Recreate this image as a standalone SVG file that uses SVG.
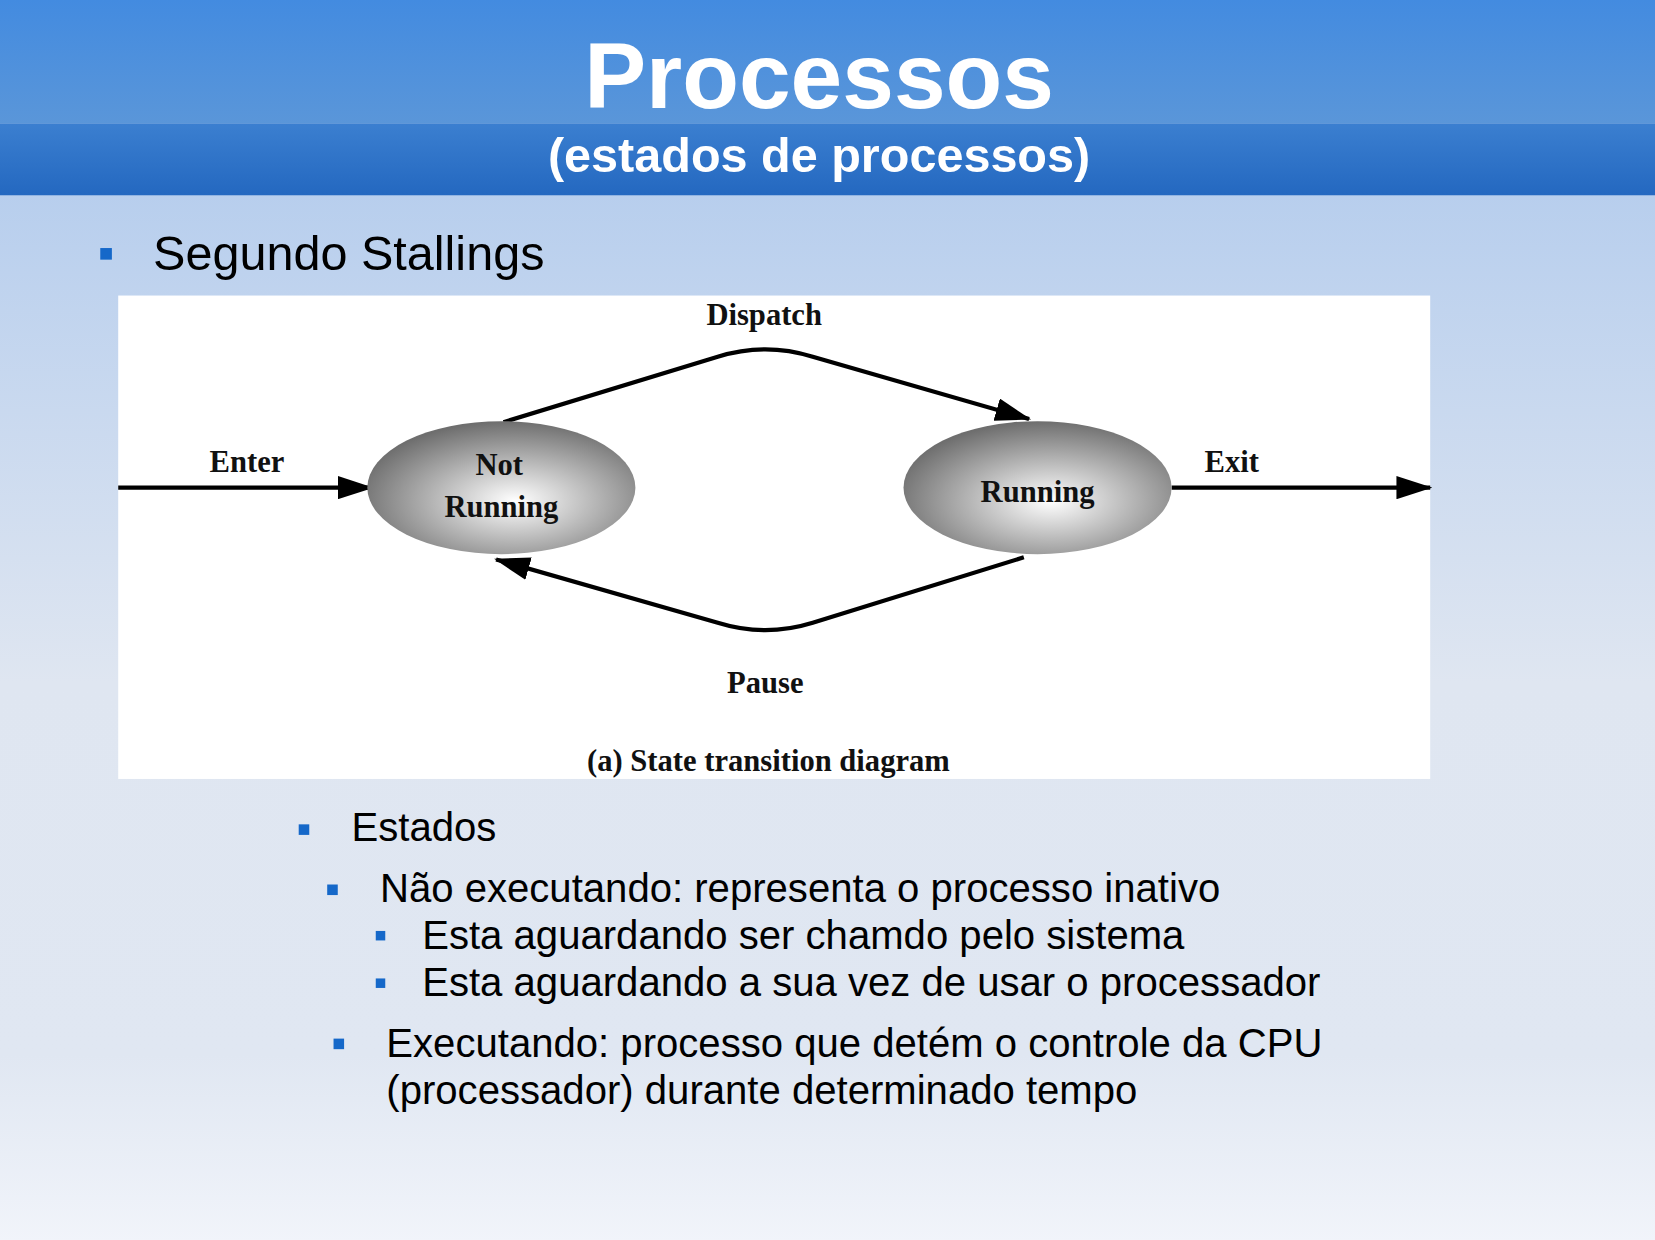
<svg xmlns="http://www.w3.org/2000/svg" width="1655" height="1240" viewBox="0 0 1655 1240">
<defs>
<linearGradient id="bg" x1="0" y1="0" x2="0" y2="1"><stop offset="0" stop-color="#a8c5ec"/><stop offset="0.55" stop-color="#dfe6f1"/><stop offset="0.85" stop-color="#e0e7f2"/><stop offset="1" stop-color="#f1f4fa"/></linearGradient>
<linearGradient id="top" x1="0" y1="0" x2="0" y2="1"><stop offset="0" stop-color="#438be0"/><stop offset="1" stop-color="#5a96d9"/></linearGradient>
<linearGradient id="band" x1="0" y1="0" x2="0" y2="1"><stop offset="0" stop-color="#3b7fd0"/><stop offset="1" stop-color="#2468c0"/></linearGradient>
<radialGradient id="ell" cx="0.55" cy="0.6" r="0.6"><stop offset="0" stop-color="#ffffff"/><stop offset="1" stop-color="#6e6e6e"/></radialGradient>
<marker id="ah" markerWidth="12" markerHeight="10" refX="11" refY="5" orient="auto" markerUnits="userSpaceOnUse"><path d="M0,0 L12,5 L0,10 Z" fill="#000"/></marker>
<marker id="ahb" markerWidth="34" markerHeight="22" refX="32" refY="11" orient="auto" markerUnits="userSpaceOnUse"><path d="M0,0 L34,11 L0,22 Z" fill="#000"/></marker>
</defs>
<style>
.b{font-family:"Liberation Sans",Arial,sans-serif;fill:#000}
.s{font-family:"Liberation Serif","Times New Roman",serif;font-weight:bold;font-size:29px;fill:#111}
.sq{fill:#1568c9}
.ln{fill:none;stroke:#000;stroke-width:4}
</style>
<g transform="scale(1.0555)">
<rect width="1568" height="1176" fill="url(#bg)"/>
<rect width="1568" height="117" fill="url(#top)"/>
<rect y="117" width="1568" height="68" fill="url(#band)"/>
<text x="776" y="102" text-anchor="middle" class="b" style="font-size:88px;font-weight:bold;fill:#fff">Processos</text>
<text x="776" y="163" text-anchor="middle" class="b" style="font-size:46px;font-weight:bold;fill:#fff">(estados de processos)</text>
<rect class="sq" x="95" y="235" width="11" height="11"/>
<text x="145" y="256" class="b" style="font-size:46px">Segundo Stallings</text>
<g id="figure">
<rect x="112" y="280" width="1243" height="458" fill="#fff"/>
<g id="connectors">
<path class="ln" d="M112,462 L352,462" marker-end="url(#ahb)"/>
<path class="ln" d="M1110,462 L1355,462" marker-end="url(#ahb)"/>
<path class="ln" d="M477,400 L680,338 Q725,324 770,338 L975,397" marker-end="url(#ahb)"/>
<path class="ln" d="M970,528 L770,590 Q725,604 680,590 L470,530" marker-end="url(#ahb)"/>
</g>
<g id="notrunning"><ellipse cx="475" cy="462" rx="127" ry="63" fill="url(#ell)"/>
<text x="473" y="450" text-anchor="middle" class="s">Not</text><text x="475" y="490" text-anchor="middle" class="s">Running</text></g>
<g id="running"><ellipse cx="983" cy="462" rx="127" ry="63" fill="url(#ell)"/>
<text x="983" y="476" text-anchor="middle" class="s">Running</text></g>
<text x="724" y="308" text-anchor="middle" class="s">Dispatch</text>
<text x="234" y="447" text-anchor="middle" class="s">Enter</text>
<text x="1167" y="447" text-anchor="middle" class="s">Exit</text>
<text x="725" y="657" text-anchor="middle" class="s">Pause</text>
<text x="728" y="730" text-anchor="middle" class="s">(a) State transition diagram</text>
</g>
<rect class="sq" x="283" y="781" width="10" height="10"/>
<text x="333" y="797" class="b" style="font-size:38px">Estados</text>
<rect class="sq" x="310" y="838" width="10" height="10"/>
<text x="360" y="855" class="b" style="font-size:38px">Não executando: representa o processo inativo</text>
<rect class="sq" x="356" y="882" width="9" height="9"/>
<text x="400" y="899" class="b" style="font-size:38px">Esta aguardando ser chamdo pelo sistema</text>
<rect class="sq" x="356" y="927" width="9" height="9"/>
<text x="400" y="944" class="b" style="font-size:38px">Esta aguardando a sua vez de usar o processador</text>
<rect class="sq" x="316" y="984" width="10" height="10"/>
<text x="366" y="1001" class="b" style="font-size:38px">Executando: processo que detém o controle da CPU</text>
<text x="366" y="1046" class="b" style="font-size:38px">(processador) durante determinado tempo</text>
</g>
</svg>
